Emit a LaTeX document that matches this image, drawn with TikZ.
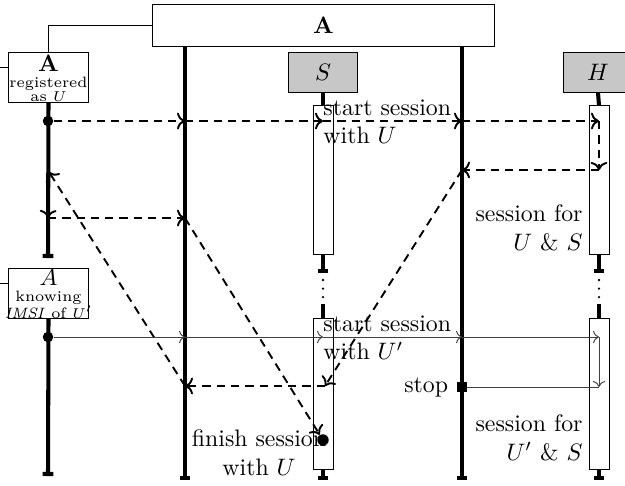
\documentclass[tikz,border=0pt]{standalone}
\usetikzlibrary{arrows.meta,positioning}

\begin{document}
\begin{tikzpicture}[x=0.42pt,y=-0.42pt,
  box/.style={rectangle,draw,thin,inner sep=0pt},
  actor/.style={box,fill=black!22,minimum width=29pt,minimum height=16.8pt},
  act/.style={box,fill=white,minimum width=8.4pt},
  life/.style={line width=1.7pt},
  lifeend/.style={life,-{Bar[width=4.6pt]}},
  gap/.style={line width=1.1pt,line cap=round,dash pattern=on 0pt off 3.6pt},
  msg/.style={->,thick,dash pattern=on 3.5pt off 2.5pt},
  msgtwo/.style={->,thin,black!75},
  blob/.style={circle,fill,inner sep=0pt,minimum size=4.4pt},
  small/.style={align=center,inner sep=0pt,font=\fontsize{6.3}{6.3}\selectfont},
  lbl/.style={inner sep=0pt,align=left,anchor=west}]
\clip (0,0) rectangle (625,485);

% parties
\node[box,minimum width=144pt,minimum height=18pt,font=\bfseries] (net) at (323.5,25.5) {A};
\node[box,minimum width=33.2pt,minimum height=21pt] (areg) at (48.5,77) {};
\node[small] (aregtxt) at (48.5,78)
  {{\normalsize\bfseries A}\\[0.6pt]registered\\[-0.5pt]as $U$};
\node[box,minimum width=33.2pt,minimum height=21pt] (aknow) at (48.5,293) {};
\node[small] (aknowtxt) at (48.5,294)
  {{\normalsize$A$}\\[0.6pt]knowing\\[-0.5pt]\textit{IMSI} of $U'$};
\node[actor] (srv) at (323,72) {$S$};
\node[actor,minimum width=29.4pt] (home) at (598,72) {$H$};

\coordinate (in1) at (0,67);
\coordinate (in2) at (0,283);
\draw[thin] (in1) -- (in1 -| areg.west);
\draw[thin] (in2) -- (in2 -| aknow.west);
\draw[thin] (net.west) -| (areg.north);

% lifelines
\draw[lifeend] (areg.south) -- (48,258);
\draw[lifeend] (aknow.south) -- (48,476);
\draw[lifeend] (185,47) -- (185,480);
\draw[lifeend] (462,47) -- (462,480);

\node[act,minimum height=62.2pt] (sa1) at (323,180) {};
\node[act,minimum height=63.8pt] (sa2) at (323,394) {};
\node[act,minimum height=62.2pt] (ha1) at (599,180) {};
\node[act,minimum height=63.8pt] (ha2) at (599,394) {};
\draw[life] (srv.south) -- (sa1.north);
\draw[lifeend] (sa1.south) -- (323,273);
\draw[life] (323,304) -- (sa2.north);
\draw[lifeend] (sa2.south) -- (323,480);
\draw[life] (home.south) -- (ha1.north);
\draw[lifeend] (ha1.south) -- (599,273);
\draw[life] (599,304) -- (ha2.north);
\draw[lifeend] (ha2.south) -- (599,480);
\draw[gap] (323,280) -- (323,298);
\draw[gap] (599,280) -- (599,298);

% first session
\node[blob] (reg) at (48,121) {};
\coordinate (m1a) at (185,121);
\coordinate (m1b) at (323,121);
\coordinate (m1c) at (462,121);
\coordinate (m1d) at (599,121);
\coordinate (m1e) at (599,170);
\coordinate (m1f) at (462,170);
\draw[msg] (reg) -- (m1a);
\draw[msg] (m1a) -- (m1b);
\draw[msg] (m1b) -- (m1c);
\draw[msg] (m1c) -- (m1d);
\draw[msg] (m1d) -- (m1e);
\draw[msg] (m1e) -- (m1f);
\node[lbl] (start1) at (323,122) {start session\\with $U$};

\coordinate (r1) at (325,386);
\coordinate (r2) at (185,386);
\coordinate (r3) at (49,172);
\coordinate (r4) at (48,218);
\coordinate (r5) at (185,218);
\node[blob,minimum size=4.8pt] (fin) at (323,440) {};
\draw[msg] (m1f) -- (r1);
\draw[msg] (r1) -- (r2);
\draw[msg] (r2) -- (r3);
\draw[msg] (r3) -- (r4);
\draw[msg] (r4) -- (r5);
\draw[msg] (r5) -- (fin);
\node[align=center,inner sep=0pt] (finlbl) at (259,453) {finish session\\with $U$};
\node[anchor=east,align=right,inner sep=0pt] (sess1) at (583,228) {session for\\$U$ \& $S$};

% second session
\node[blob] (reg2) at (48,337) {};
\coordinate (m2a) at (185,337);
\coordinate (m2b) at (323,337);
\coordinate (m2c) at (462,337);
\coordinate (m2d) at (599,337);
\coordinate (m2e) at (599,387);
\node[rectangle,fill,inner sep=0pt,minimum size=4.2pt] (stop) at (462,387) {};
\draw[msgtwo] (reg2) -- (m2a);
\draw[msgtwo] (m2a) -- (m2b);
\draw[msgtwo] (m2b) -- (m2c);
\draw[msgtwo] (m2c) -- (m2d);
\draw[msgtwo] (m2d) -- (m2e);
\draw[thin,black!75] (m2e) -- (stop);
\node[left=0pt of stop] (stoplbl) {stop};
\node[lbl] (start2) at (323,338) {start session\\with $U'$};
\node[anchor=east,align=right,inner sep=0pt] (sess2) at (583,438) {session for\\$U'$ \& $S$};
\end{tikzpicture}
\end{document}
